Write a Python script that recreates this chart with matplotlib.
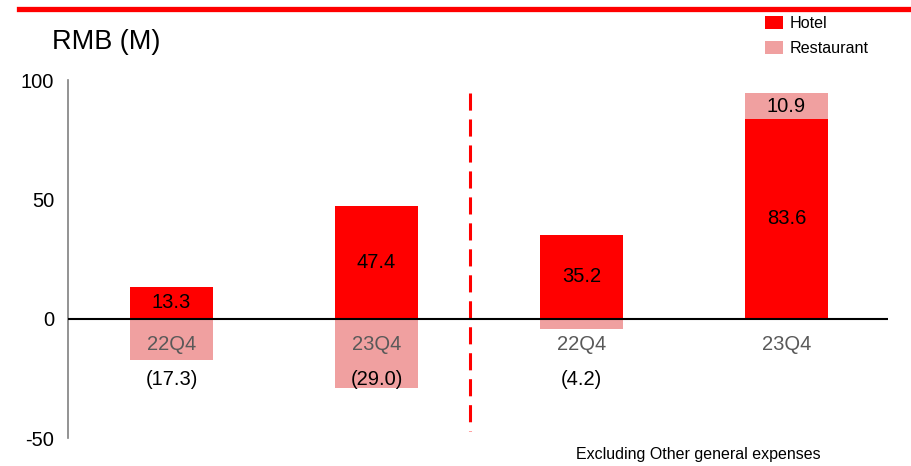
import numpy as np
import matplotlib.pyplot as plt
from matplotlib.lines import Line2D

plt.rcParams['font.family'] = ['Liberation Sans', 'DejaVu Sans']
plt.rcParams['axes.unicode_minus'] = False

quarters = ["22Q4", "23Q4", "22Q4", "23Q4"]
hotel = [13.3, 47.4, 35.2, 83.6]
restaurant = [-17.3, -29.0, -4.2, 10.9]
restaurant_labels = ["(17.3)", "(29.0)", "(4.2)", "10.9"]

hotel_color = "#FF0000"
rest_color = "#F0A0A0"

fig = plt.figure(figsize=(9.12, 4.66), dpi=100)
ax = fig.add_axes([68 / 912, 1 - 438 / 466, 820 / 912, 358 / 466])

x = np.arange(len(quarters))
width = 0.405

# restaurant sits below zero when negative, on top of hotel when positive
rest_bottom = [h if r > 0 else 0 for h, r in zip(hotel, restaurant)]
ax.bar(x, hotel, width, color=hotel_color, label="Hotel", zorder=2)
ax.bar(x, restaurant, width, bottom=rest_bottom, color=rest_color, label="Restaurant", zorder=2)

ax.axhline(0, color="black", lw=1.5, zorder=3)

fs = 14.5
for i in range(len(x)):
    ax.text(x[i], hotel[i] / 2, f"{hotel[i]:.1f}", ha="center", va="center", fontsize=fs, zorder=4)
    ax.text(x[i], -11, quarters[i], ha="center", va="center", fontsize=fs, color="#595959", zorder=4)
    if restaurant[i] > 0:
        ax.text(x[i], hotel[i] + restaurant[i] / 2, restaurant_labels[i],
                ha="center", va="center", fontsize=fs, zorder=4)
    else:
        ax.text(x[i], -25.3, restaurant_labels[i], ha="center", va="center", fontsize=fs, zorder=4)

# divider between the two groups
ax.plot([1.455, 1.455], [94.5, -47], color=hotel_color, lw=2.2, dashes=(5.6, 2.9), zorder=1)

ax.set_xlim(-0.505, 3.495)
ax.set_ylim(-50, 100)
ax.set_yticks([-50, 0, 50, 100])
ax.set_xticks([])
ax.tick_params(axis="y", length=0, pad=10, labelsize=fs)
for side in ["top", "right", "bottom"]:
    ax.spines[side].set_visible(False)
ax.spines["left"].set_color("#808080")
ax.spines["left"].set_linewidth(1.2)

fig.text(52 / 912, 1 - 42 / 466, "RMB (M)", fontsize=19.5, va="center", ha="left")
fig.add_artist(Line2D([19 / 912, 1], [1 - 9 / 466, 1 - 9 / 466], color=hotel_color, lw=3.8))

fig.legend(loc="upper left", bbox_to_anchor=(765 / 912, 1 - 16 / 466), frameon=False,
           fontsize=11.6, handlelength=1.1, handleheight=0.85, handletextpad=0.4,
           labelspacing=0.6, borderpad=0, borderaxespad=0)

fig.text(698 / 912, 1 - 454 / 466, "Excluding Other general expenses", fontsize=11.5,
         ha="center", va="center")

fig.savefig("out.png", dpi=100)
